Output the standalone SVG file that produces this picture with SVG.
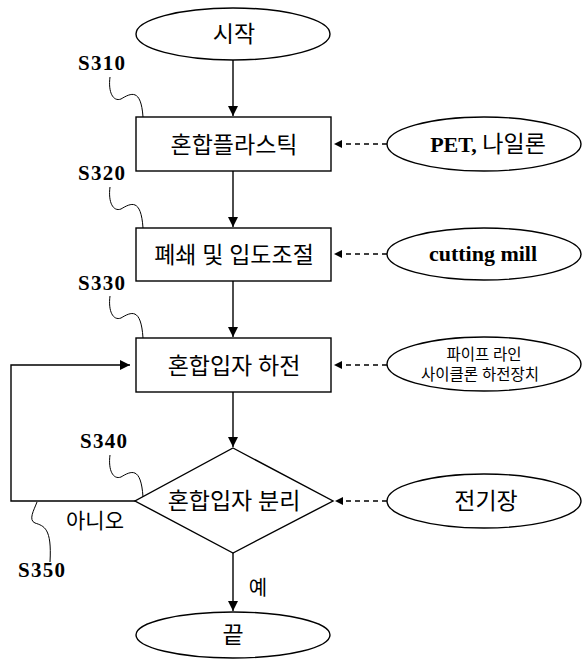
<svg xmlns="http://www.w3.org/2000/svg" width="584" height="661" viewBox="0 0 584 661">
<defs>
<marker id="ah" viewBox="0 0 10 10" refX="10" refY="5" markerWidth="10" markerHeight="10" markerUnits="userSpaceOnUse" orient="auto">
<path d="M0,0 L10,5 L0,10 Z" fill="#000"/>
</marker>
<marker id="ahs" viewBox="0 0 10 10" refX="10" refY="5" markerWidth="8" markerHeight="8" markerUnits="userSpaceOnUse" orient="auto">
<path d="M0,0 L10,5 L0,10 Z" fill="#000"/>
</marker>
</defs>
<style>
.sh{fill:#fff;stroke:#000;stroke-width:1.4}
.ln{fill:none;stroke:#000;stroke-width:1.4}
.ds{fill:none;stroke:#000;stroke-width:1.4;stroke-dasharray:5,4}
.lead{fill:none;stroke:#000;stroke-width:1}
.t{font-family:"Liberation Serif","Noto Sans CJK KR",serif;font-size:23px;text-anchor:middle;fill:#000}
.b{font-family:"Liberation Serif","Noto Sans CJK KR",serif;font-size:21px;font-weight:bold;fill:#000}
.s{font-family:"Liberation Serif","Noto Sans CJK KR",serif;font-size:15.5px;text-anchor:middle;fill:#000}
</style>
<rect width="584" height="661" fill="#fff"/>
<g id="connectors">
<line class="ln" x1="233" y1="60" x2="233" y2="116" marker-end="url(#ah)"/>
<line class="ln" x1="233" y1="171" x2="233" y2="227" marker-end="url(#ah)"/>
<line class="ln" x1="233" y1="281" x2="233" y2="337" marker-end="url(#ah)"/>
<line class="ln" x1="233" y1="392" x2="233" y2="447" marker-end="url(#ah)"/>
<line class="ln" x1="233" y1="553" x2="233" y2="611" marker-end="url(#ah)"/>
<polyline class="ln" points="135,501 11,501 11,365 130,365" marker-end="url(#ah)"/>
<line class="ds" x1="387" y1="144" x2="334" y2="144" marker-end="url(#ahs)"/>
<line class="ds" x1="387" y1="254" x2="334" y2="254" marker-end="url(#ahs)"/>
<line class="ds" x1="387" y1="365" x2="334" y2="365" marker-end="url(#ahs)"/>
<line class="ds" x1="387" y1="501" x2="335" y2="501" marker-end="url(#ahs)"/>
</g>
<g id="start">
<ellipse class="sh" cx="233" cy="34" rx="97" ry="26"/>
<text class="t" x="234" y="42">시작</text>
</g>
<g id="s310">
<rect class="sh" x="136" y="117" width="195" height="54"/>
<text class="t" x="234" y="153">혼합플라스틱</text>
<text class="b" x="78" y="70" textLength="47">S310</text>
<path class="lead" d="M110,77 C108,92 113,102 121,99 C131,93 141,88 143,117"/>
</g>
<g id="s320">
<rect class="sh" x="136" y="228" width="195" height="53"/>
<text class="t" x="234" y="263">폐쇄 및 입도조절</text>
<text class="b" x="78" y="180" textLength="47">S320</text>
<path class="lead" d="M110,187 C108,202 113,212 121,209 C131,203 141,198 143,228"/>
</g>
<g id="s330">
<rect class="sh" x="136" y="338" width="195" height="54"/>
<text class="t" x="234" y="374">혼합입자 하전</text>
<text class="b" x="78" y="290" textLength="47">S330</text>
<path class="lead" d="M110,296 C108,311 113,321 121,318 C131,312 141,307 143,338"/>
</g>
<g id="s340">
<polygon class="sh" points="233,448 333,501 233,553 135,501"/>
<text class="t" x="234" y="509">혼합입자 분리</text>
<text class="b" x="80" y="448" textLength="47">S340</text>
<path class="lead" d="M110,455 C108,470 113,480 121,477 C131,471 141,466 143,497"/>
</g>
<g id="s350">
<text class="b" x="18" y="577" textLength="47">S350</text>
<path class="lead" d="M37,502 C34,510 28,520 35,523 C44,526 52,528 50,562"/>
<text class="t" x="95" y="528" style="font-size:21px">아니오</text>
<text class="t" x="258" y="595" style="font-size:20px">예</text>
</g>
<g id="end">
<ellipse class="sh" cx="233" cy="635" rx="97" ry="23"/>
<text class="t" x="233" y="643">끝</text>
</g>
<g id="pet">
<ellipse class="sh" cx="484" cy="144" rx="97" ry="27"/>
<text class="b" x="488" y="152" text-anchor="middle" style="font-size:22px">PET, <tspan style="font-weight:normal;font-size:23px">나일론</tspan></text>
</g>
<g id="mill">
<ellipse class="sh" cx="484" cy="254" rx="97" ry="26"/>
<text class="b" x="483" y="261" text-anchor="middle" style="font-size:22px">cutting mill</text>
</g>
<g id="cyclone">
<ellipse class="sh" cx="484" cy="364" rx="97" ry="27"/>
<text class="s" x="484" y="360">파이프 라인</text>
<text class="s" x="480" y="380">사이클론 하전장치</text>
</g>
<g id="field">
<ellipse class="sh" cx="484" cy="501" rx="97" ry="27"/>
<text class="t" x="486" y="509">전기장</text>
</g>
</svg>
